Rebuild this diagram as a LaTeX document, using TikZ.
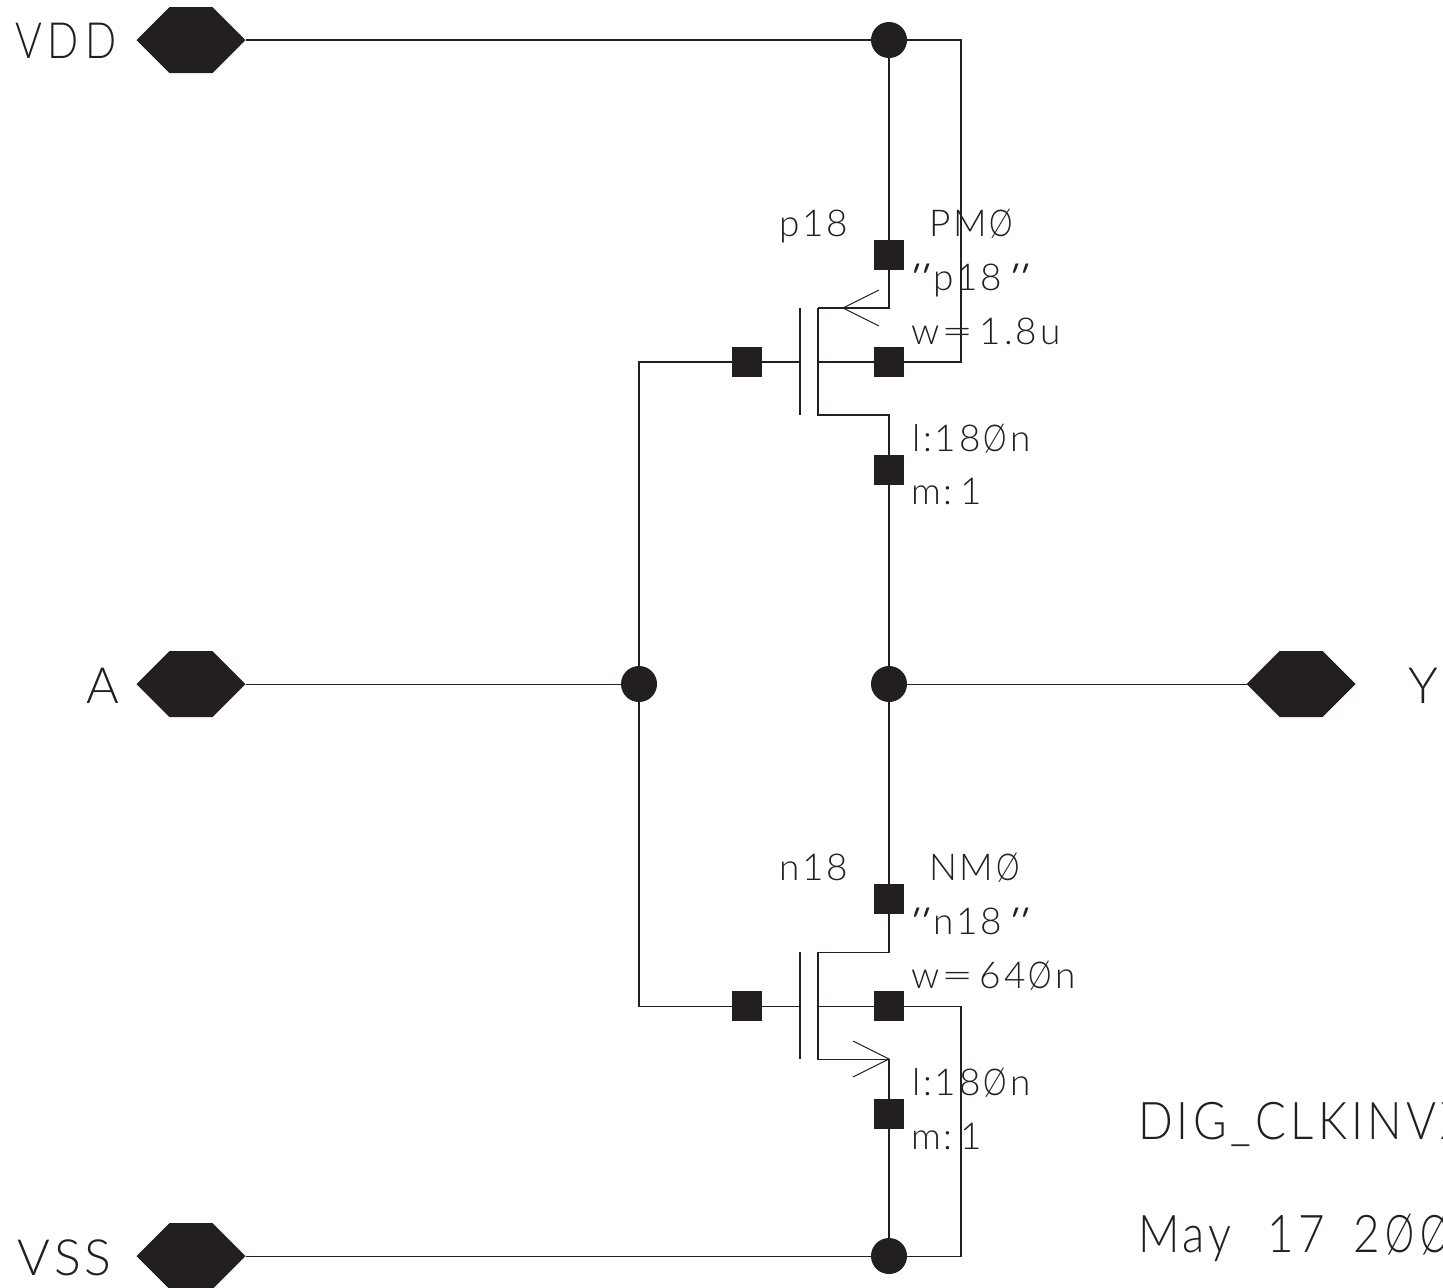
\documentclass[tikz,border=0pt]{standalone}
\usepackage{fontspec}
\setmainfont{Lato}
\newfontfamily\cadfont[LetterSpace=8]{Lato Light}
\newfontfamily\cadnarrow[LetterSpace=12,FakeStretch=0.82]{Lato Light}
\newfontfamily\cadtitle[LetterSpace=8,FakeStretch=0.88]{Lato Light}
\newfontfamily\cadquote[FakeSlant=0.35]{Lato}
\usetikzlibrary{shapes.symbols}
\definecolor{ink}{HTML}{231F20}
\newcommand{\slz}{\kern1.5pt\scalebox{0.8}[1]{Ø}\kern1.5pt}
\newcommand{\wideq}{\kern1.2pt\scalebox{1.5}[1]{=}\kern3pt}
\newcommand{\tick}{{\cadquote '\kern1.5pt'}}
\tikzset{
  x=0.5pt,y=-0.5pt,
  wire/.style={draw=ink,line width=0.52pt},
  pinhex/.style={shape=signal,signal to=west and east,signal pointer angle=90,fill=ink,draw=none,inner sep=0pt,outer sep=0pt,minimum width=54.5pt,minimum height=33pt},
  dot/.style={circle,fill=ink,inner sep=0pt,outer sep=0pt,minimum size=18pt},
  term/.style={rectangle,fill=ink,inner sep=0pt,outer sep=0pt,minimum size=15pt},
  lab/.style={anchor=base west,inner sep=0pt,outer sep=0pt,text=ink,font=\cadfont\fontsize{18.5}{18.5}\selectfont},
  big/.style={lab,font=\cadfont\fontsize{25}{25}\selectfont},
  bignarrow/.style={lab,font=\cadnarrow\fontsize{25}{25}\selectfont},
  title/.style={lab,font=\cadtitle\fontsize{26}{26}\selectfont},
}
\begin{document}
\begin{tikzpicture}
\useasboundingbox (0,0) rectangle (1443,1287);
\clip (0,0) rectangle (1443,1287);
% pins
\node[pinhex] (vdd) at (191,40) {};
\node[pinhex] (a) at (191,684) {};
\node[pinhex] (y) at (1301,684) {};
\node[pinhex] (vss) at (191,1256) {};
% junctions
\node[dot] (jtop) at (889,40) {};
\node[dot] (jin) at (639,684) {};
\node[dot] (jout) at (889,684) {};
\node[dot] (jbot) at (889,1256) {};
% PMOS terminals
\node[term] (ps) at (889,254.5) {};
\node[term] (pb) at (889,362) {};
\node[term] (pg) at (746.5,362) {};
\node[term] (pd) at (889,469.5) {};
% NMOS terminals
\node[term] (nd) at (889,898.5) {};
\node[term] (nb) at (889,1006) {};
\node[term] (ng) at (746.5,1006) {};
\node[term] (ns) at (889,1113.5) {};
% corners
\coordinate (ptr) at (961,40);
\coordinate (pbr) at (961,362);
\coordinate (pgl) at (639,362);
\coordinate (ngl) at (639,1006);
\coordinate (nbr) at (961,1006);
\coordinate (nbb) at (961,1256);
\coordinate (pgt) at (800,308);
\coordinate (pgb) at (800,415);
\coordinate (pct) at (818,308);
\coordinate (pcb) at (818,415);
\coordinate (pcm) at (818,362);
\coordinate (pgm) at (800,362);
\coordinate (ngt) at (800,952);
\coordinate (ngb) at (800,1059);
\coordinate (nct) at (818,952);
\coordinate (ncb) at (818,1059);
\coordinate (ncm) at (818,1006);
\coordinate (ngm) at (800,1006);
% wires
\draw[wire] (vdd.east) -- (jtop);
\draw[wire] (a.east) -- (jin);
\draw[wire] (jout) -- (y.west);
\draw[wire] (vss.east) -- (jbot);
\draw[wire] (jtop) -- (ps);
\draw[wire] (jtop) -- (ptr) -- (pbr) -- (pb);
\draw[wire] (jin) -- (pgl) -- (pg) -- (pgm);
\draw[wire] (jin) -- (ngl) -- (ng) -- (ngm);
\draw[wire] (ps) |- (pct);
\draw[wire] (pct) -- (pcb) -- (pcb -| pd) -- (pd);
\draw[wire] (pcm) -- (pb);
\draw[wire] (pgt) -- (pgb);
\draw[wire] (pd) -- (jout);
\draw[wire] (jout) -- (nd);
\draw[wire] (nd) |- (nct);
\draw[wire] (nct) -- (ncb) -- (ncb -| ns) -- (ns);
\draw[wire] (ncm) -- (nb);
\draw[wire] (ngt) -- (ngb);
\draw[wire] (ns) -- (jbot);
\draw[wire] (nb) -- (nbr) -- (nbb) -- (jbot);
% arrows
\draw[wire] (879,290) -- (843,308) -- (879,326);
\draw[wire] (853,1041) -- (889,1059) -- (853,1077);
% labels
\node[bignarrow] (tvdd) at (15,58) {VDD};
\node[big] (ta) at (86,703) {A};
\node[big] (ty) at (1408,703) {Y};
\node[big] (tvss) at (18,1275) {VSS};
\node[lab] (p1) at (779,236) {p18};
\node[lab] (p2) at (929,236) {PM\slz};
\node[lab] (p3) at (905,290) {\tick\kern5pt p18\kern1pt\tick};
\node[lab] (p4) at (911,344) {w\wideq 1.8u};
\node[lab] (p5) at (912,451) {l:18\slz n};
\node[lab] (p6) at (911,504) {m:\kern4pt 1};
\node[lab] (n1) at (779,880) {n18};
\node[lab] (n2) at (929,880) {NM\slz};
\node[lab] (n3) at (905,934) {\tick\kern5pt n18\kern1pt\tick};
\node[lab] (n4) at (911,988) {w\wideq 64\slz n};
\node[lab] (n5) at (912,1095) {l:18\slz n};
\node[lab] (n6) at (911,1149) {m:\kern4pt 1};
\node[title] (cell) at (1138,1139) {DIG\_CLKINVX};
\node[title] (date) at (1138,1252) {May\kern18pt 17\kern14pt 2\kern1.5pt\slz\slz};
\end{tikzpicture}
\end{document}
